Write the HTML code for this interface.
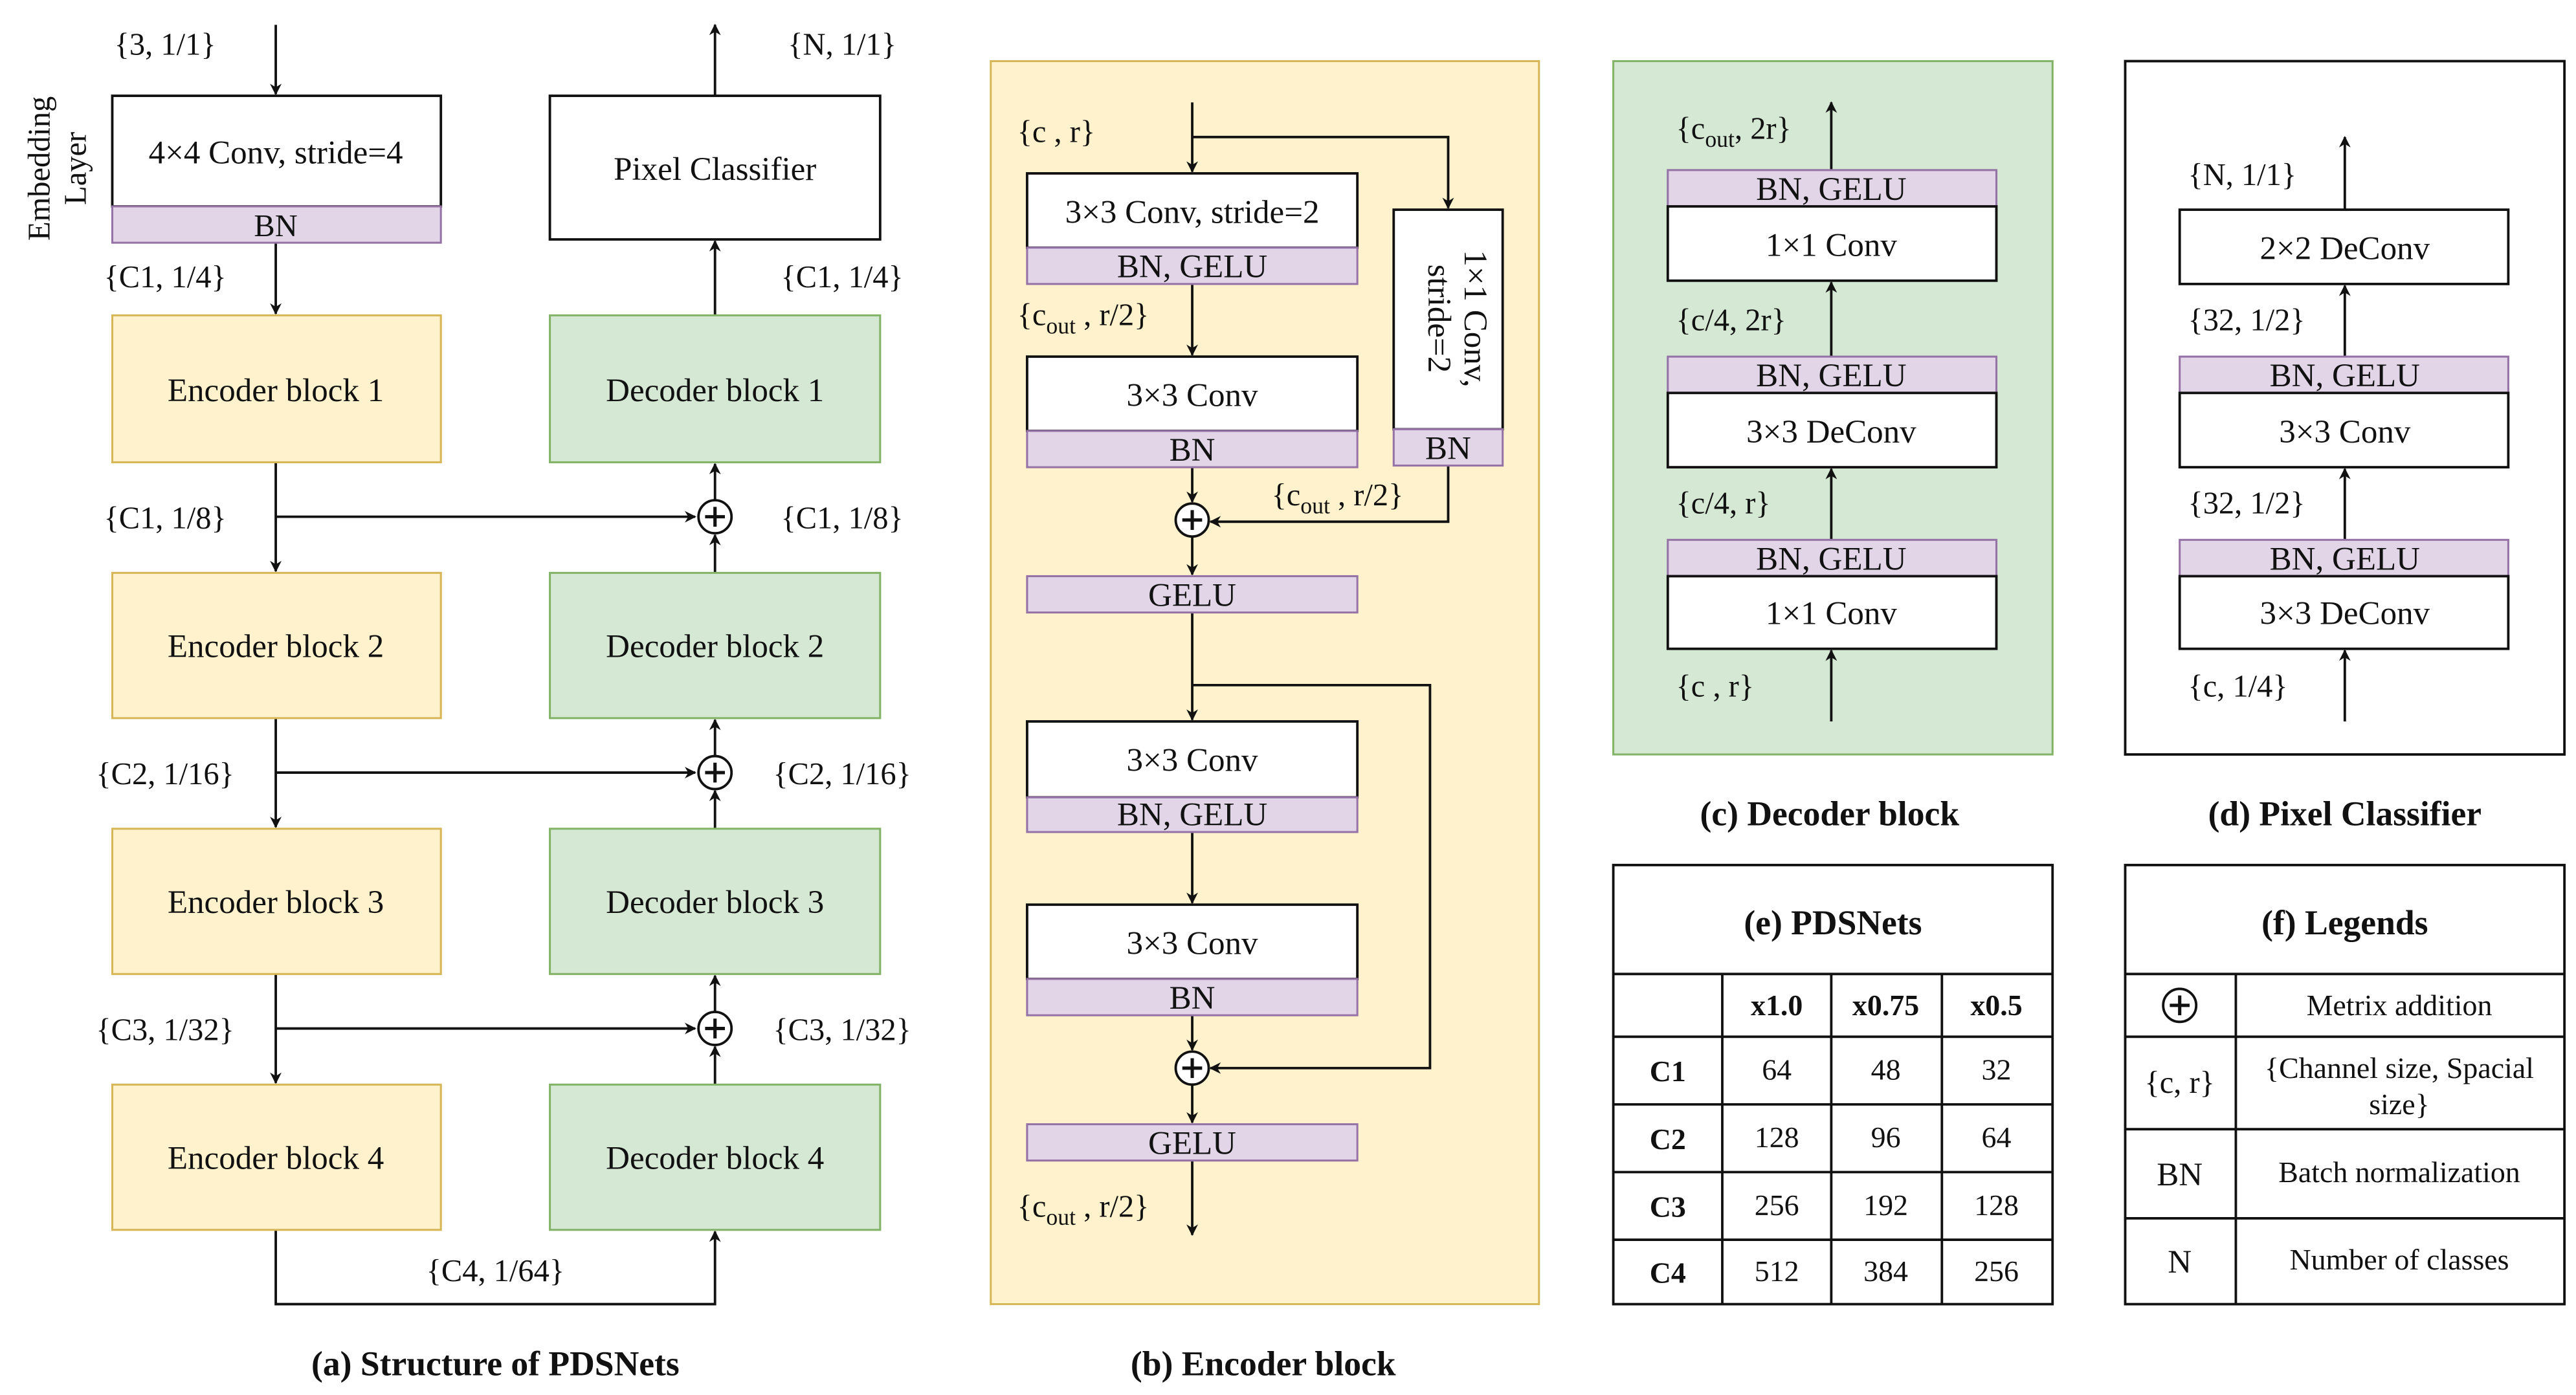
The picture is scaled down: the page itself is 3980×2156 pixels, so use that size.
<!DOCTYPE html>
<html><head><meta charset="utf-8"><style>
html,body{margin:0;padding:0;background:#fff;}
svg{display:block;font-family:"Liberation Serif","DejaVu Serif",serif;}
svg text{font-family:"Liberation Serif","DejaVu Serif",serif;fill:#111;}
</style></head><body>
<svg width="3980" height="2156" viewBox="0 0 1560 845" xmlns="http://www.w3.org/2000/svg" font-family="Liberation Serif, DejaVu Serif, serif">
<defs>
<marker id="a" viewBox="0 0 10 10" refX="9" refY="5" markerWidth="7" markerHeight="7" orient="auto" markerUnits="userSpaceOnUse"><path d="M0,0 L10,5 L0,10 L3,5 z" fill="#111"/></marker>
</defs>
<g stroke="#111" stroke-width="1.5" fill="none">
<line x1="167" y1="15" x2="167" y2="57" marker-end="url(#a)"/>
<line x1="167" y1="147" x2="167" y2="190" marker-end="url(#a)"/>
<line x1="167" y1="280" x2="167" y2="346" marker-end="url(#a)"/>
<line x1="167" y1="435" x2="167" y2="501" marker-end="url(#a)"/>
<line x1="167" y1="590" x2="167" y2="656" marker-end="url(#a)"/>
<line x1="167" y1="313" x2="421" y2="313" marker-end="url(#a)"/>
<line x1="167" y1="468" x2="421" y2="468" marker-end="url(#a)"/>
<line x1="167" y1="623" x2="421" y2="623" marker-end="url(#a)"/>
<polyline points="167,745 167,790 433,790 433,746" marker-end="url(#a)"/>
<line x1="433" y1="657" x2="433" y2="634" marker-end="url(#a)"/>
<line x1="433" y1="613" x2="433" y2="591" marker-end="url(#a)"/>
<line x1="433" y1="502" x2="433" y2="479" marker-end="url(#a)"/>
<line x1="433" y1="458" x2="433" y2="436" marker-end="url(#a)"/>
<line x1="433" y1="347" x2="433" y2="324" marker-end="url(#a)"/>
<line x1="433" y1="303" x2="433" y2="281" marker-end="url(#a)"/>
<line x1="433" y1="191" x2="433" y2="146" marker-end="url(#a)"/>
<line x1="433" y1="58" x2="433" y2="15" marker-end="url(#a)"/>
</g>
<rect x="68" y="58" width="199" height="67" fill="#fff" stroke="#111" stroke-width="1.5"/>
<rect x="68" y="125" width="199" height="22" fill="#e1d5e7" stroke="#9673a6" stroke-width="1.2"/>
<rect x="333" y="58" width="200" height="87" fill="#fff" stroke="#111" stroke-width="1.5"/>
<g fill="#fff2cc" stroke="#d6b656" stroke-width="1.2">
<rect x="68" y="191" width="199" height="89"/><rect x="68" y="347" width="199" height="88"/>
<rect x="68" y="502" width="199" height="88"/><rect x="68" y="657" width="199" height="88"/>
</g>
<g fill="#d5e8d4" stroke="#82b366" stroke-width="1.2">
<rect x="333" y="191" width="200" height="89"/><rect x="333" y="347" width="200" height="88"/>
<rect x="333" y="502" width="200" height="88"/><rect x="333" y="657" width="200" height="88"/>
</g>
<g font-size="20" text-anchor="middle">
<text x="167" y="99">4×4 Conv, stride=4</text>
<text x="167" y="143" font-size="19">BN</text>
<text x="433" y="109">Pixel Classifier</text>
<text x="167" y="243">Encoder block 1</text><text x="167" y="398">Encoder block 2</text>
<text x="167" y="553">Encoder block 3</text><text x="167" y="708">Encoder block 4</text>
<text x="433" y="243">Decoder block 1</text><text x="433" y="398">Decoder block 2</text>
<text x="433" y="553">Decoder block 3</text><text x="433" y="708">Decoder block 4</text>
</g>
<g font-size="19" text-anchor="middle">
<text x="100" y="33">{3, 1/1}</text>
<text x="100" y="174">{C1, 1/4}</text>
<text x="100" y="320">{C1, 1/8}</text>
<text x="100" y="475">{C2, 1/16}</text>
<text x="100" y="630">{C3, 1/32}</text>
<text x="300" y="776">{C4, 1/64}</text>
<text x="510" y="33">{N, 1/1}</text>
<text x="510" y="174">{C1, 1/4}</text>
<text x="510" y="320">{C1, 1/8}</text>
<text x="510" y="475">{C2, 1/16}</text>
<text x="510" y="630">{C3, 1/32}</text>
</g>
<text font-size="19" text-anchor="middle" transform="translate(30,102) rotate(-90)"><tspan x="0" y="0">Embedding</tspan><tspan x="0" y="22">Layer</tspan></text>
<text x="300" y="833" font-size="21" font-weight="bold" text-anchor="middle">(a) Structure of PDSNets</text>

<rect x="600" y="37" width="332" height="753" fill="#fff2cc" stroke="#d6b656" stroke-width="1.2"/>
<g stroke="#111" stroke-width="1.5" fill="none">
<line x1="722" y1="62" x2="722" y2="104" marker-end="url(#a)"/>
<polyline points="722,83 877,83 877,126" marker-end="url(#a)"/>
<line x1="722" y1="172" x2="722" y2="215" marker-end="url(#a)"/>
<line x1="722" y1="283" x2="722" y2="304" marker-end="url(#a)"/>
<polyline points="877,282 877,316 733,316" marker-end="url(#a)"/>
<line x1="722" y1="325" x2="722" y2="348" marker-end="url(#a)"/>
<line x1="722" y1="371" x2="722" y2="436" marker-end="url(#a)"/>
<polyline points="722,415 866,415 866,647 733,647" marker-end="url(#a)"/>
<line x1="722" y1="504" x2="722" y2="547" marker-end="url(#a)"/>
<line x1="722" y1="615" x2="722" y2="636" marker-end="url(#a)"/>
<line x1="722" y1="657" x2="722" y2="680" marker-end="url(#a)"/>
<line x1="722" y1="703" x2="722" y2="748" marker-end="url(#a)"/>
</g>
<g fill="#fff" stroke="#111" stroke-width="1.5">
<rect x="622" y="105" width="200" height="45"/><rect x="622" y="216" width="200" height="45"/>
<rect x="844" y="127" width="66" height="133"/>
<rect x="622" y="437" width="200" height="46"/><rect x="622" y="548" width="200" height="45"/>
</g>
<g fill="#e1d5e7" stroke="#9673a6" stroke-width="1.2">
<rect x="622" y="150" width="200" height="22"/><rect x="622" y="261" width="200" height="22"/>
<rect x="844" y="260" width="66" height="22"/><rect x="622" y="349" width="200" height="22"/>
<rect x="622" y="483" width="200" height="21"/><rect x="622" y="593" width="200" height="22"/>
<rect x="622" y="681" width="200" height="22"/>
</g>
<g font-size="20" text-anchor="middle">
<text x="722" y="135">3×3 Conv, stride=2</text>
<text x="722" y="168">BN, GELU</text>
<text x="722" y="246">3×3 Conv</text>
<text x="722" y="279">BN</text>
<text x="877" y="278">BN</text>
<text x="722" y="367">GELU</text>
<text x="722" y="467">3×3 Conv</text>
<text x="722" y="500">BN, GELU</text>
<text x="722" y="578">3×3 Conv</text>
<text x="722" y="611">BN</text>
<text x="722" y="699">GELU</text>
</g>
<text font-size="20" text-anchor="middle" transform="translate(877,193) rotate(90)"><tspan x="0" y="-10">1×1 Conv,</tspan><tspan x="0" y="12">stride=2</tspan></text>
<g font-size="19">
<text x="616" y="86">{c , r}</text>
<text x="616" y="197">{c<tspan font-size="14" dy="5">out</tspan><tspan dy="-5"> , r/2}</tspan></text>
<text x="770" y="306">{c<tspan font-size="14" dy="5">out</tspan><tspan dy="-5"> , r/2}</tspan></text>
<text x="616" y="737">{c<tspan font-size="14" dy="5">out</tspan><tspan dy="-5"> , r/2}</tspan></text>
</g>
<text x="765" y="833" font-size="21" font-weight="bold" text-anchor="middle">(b) Encoder block</text>

<rect x="977" y="37" width="266" height="420" fill="#d5e8d4" stroke="#82b366" stroke-width="1.2"/>
<rect x="1287" y="37" width="266" height="420" fill="#fff" stroke="#111" stroke-width="1.5"/>
<g stroke="#111" stroke-width="1.5" fill="none">
<line x1="1109" y1="103" x2="1109" y2="62" marker-end="url(#a)"/>
<line x1="1109" y1="216" x2="1109" y2="171" marker-end="url(#a)"/>
<line x1="1109" y1="327" x2="1109" y2="284" marker-end="url(#a)"/>
<line x1="1109" y1="437" x2="1109" y2="394" marker-end="url(#a)"/>
<line x1="1420" y1="127" x2="1420" y2="83" marker-end="url(#a)"/>
<line x1="1420" y1="216" x2="1420" y2="173" marker-end="url(#a)"/>
<line x1="1420" y1="327" x2="1420" y2="284" marker-end="url(#a)"/>
<line x1="1420" y1="437" x2="1420" y2="394" marker-end="url(#a)"/>
</g>
<g fill="#e1d5e7" stroke="#9673a6" stroke-width="1.2">
<rect x="1010" y="103" width="199" height="22"/><rect x="1010" y="216" width="199" height="22"/><rect x="1010" y="327" width="199" height="22"/>
<rect x="1320" y="216" width="199" height="22"/><rect x="1320" y="327" width="199" height="22"/>
</g>
<g fill="#fff" stroke="#111" stroke-width="1.5">
<rect x="1010" y="125" width="199" height="45"/><rect x="1010" y="238" width="199" height="45"/><rect x="1010" y="349" width="199" height="44"/>
<rect x="1320" y="127" width="199" height="45"/><rect x="1320" y="238" width="199" height="45"/><rect x="1320" y="349" width="199" height="44"/>
</g>
<g font-size="20" text-anchor="middle">
<text x="1109" y="121">BN, GELU</text><text x="1109" y="155">1×1 Conv</text>
<text x="1109" y="234">BN, GELU</text><text x="1109" y="268">3×3 DeConv</text>
<text x="1109" y="345">BN, GELU</text><text x="1109" y="378">1×1 Conv</text>
<text x="1420" y="157">2×2 DeConv</text>
<text x="1420" y="234">BN, GELU</text><text x="1420" y="268">3×3 Conv</text>
<text x="1420" y="345">BN, GELU</text><text x="1420" y="378">3×3 DeConv</text>
</g>
<g font-size="19">
<text x="1015" y="84">{c<tspan font-size="14" dy="5">out</tspan><tspan dy="-5">, 2r}</tspan></text>
<text x="1015" y="200">{c/4, 2r}</text>
<text x="1015" y="311">{c/4, r}</text>
<text x="1015" y="422">{c , r}</text>
<text x="1325" y="112">{N, 1/1}</text>
<text x="1325" y="200">{32, 1/2}</text>
<text x="1325" y="311">{32, 1/2}</text>
<text x="1325" y="422">{c, 1/4}</text>
</g>
<text x="1108" y="500" font-size="21" font-weight="bold" text-anchor="middle">(c) Decoder block</text>
<text x="1420" y="500" font-size="21" font-weight="bold" text-anchor="middle">(d) Pixel Classifier</text>

<g stroke="#111" stroke-width="1.5" fill="none">
<rect x="977" y="524" width="266" height="266"/>
<path d="M977,590H1243M977,628H1243M977,669H1243M977,710H1243M977,751H1243M1043,590V790M1109,590V790M1176,590V790"/>
<rect x="1287" y="524" width="266" height="266"/>
<path d="M1287,590H1553M1287,628H1553M1287,684H1553M1287,738H1553M1354,590V790"/>
</g>
<text x="1110" y="566" font-size="21" font-weight="bold" text-anchor="middle">(e) PDSNets</text>
<text x="1420" y="566" font-size="21" font-weight="bold" text-anchor="middle">(f) Legends</text>
<g font-size="18" font-weight="bold" text-anchor="middle">
<text x="1076" y="615">x1.0</text><text x="1142" y="615">x0.75</text><text x="1209" y="615">x0.5</text>
<text x="1010" y="655">C1</text><text x="1010" y="696">C2</text><text x="1010" y="737">C3</text><text x="1010" y="777">C4</text>
</g>
<g font-size="18" text-anchor="middle">
<text x="1076" y="654">64</text><text x="1142" y="654">48</text><text x="1209" y="654">32</text>
<text x="1076" y="695">128</text><text x="1142" y="695">96</text><text x="1209" y="695">64</text>
<text x="1076" y="736">256</text><text x="1142" y="736">192</text><text x="1209" y="736">128</text>
<text x="1076" y="776">512</text><text x="1142" y="776">384</text><text x="1209" y="776">256</text>
<text x="1453" y="615">Metrix addition</text>
<text x="1453" y="653">{Channel size, Spacial</text>
<text x="1453" y="675">size}</text>
<text x="1320" y="662" font-size="19">{c, r}</text>
<text x="1320" y="718" font-size="20">BN</text>
<text x="1453" y="716">Batch normalization</text>
<text x="1320" y="771" font-size="20">N</text>
<text x="1453" y="769">Number of classes</text>
</g>

<g fill="#fff" stroke="#111" stroke-width="1.5">
<circle cx="433" cy="313" r="10"/><circle cx="433" cy="468" r="10"/><circle cx="433" cy="623" r="10"/>
<circle cx="722" cy="315" r="10"/><circle cx="722" cy="647" r="10"/>
<circle cx="1320" cy="609" r="10"/>
</g>
<g stroke="#111" stroke-width="2">
<path d="M427,313h12M433,307v12M427,468h12M433,462v12M427,623h12M433,617v12M716,315h12M722,309v12M716,647h12M722,641v12M1314,609h12M1320,603v12"/>
</g>
</svg>
</body></html>
